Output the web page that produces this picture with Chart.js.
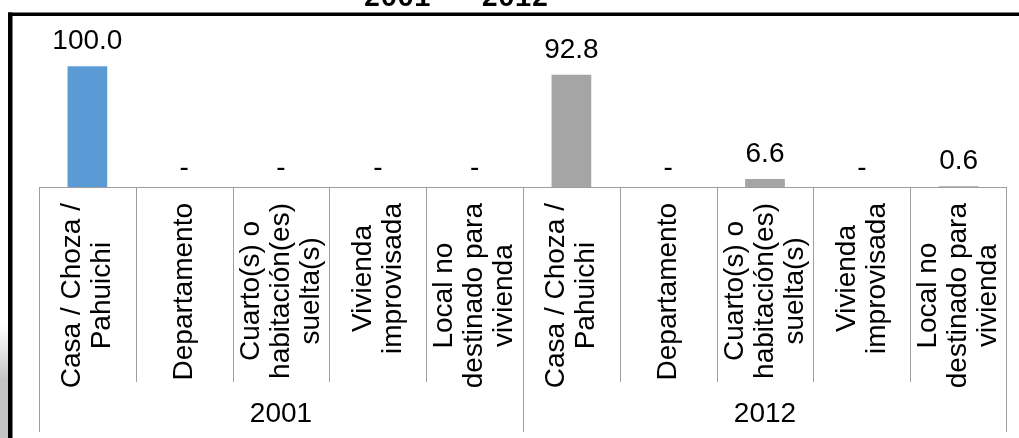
<!DOCTYPE html>
<html>
<head>
<meta charset="utf-8">
<script src="https://cdn.jsdelivr.net/npm/chart.js@4/dist/chart.umd.min.js"></script>
<style>
html,body{margin:0;padding:0;background:#fff;}
#wrap{width:1019px;height:438px;position:relative;}
</style>
</head>
<body>
<div id="wrap"><canvas id="c" width="1019" height="438"></canvas></div>
<script>
// ---- data ----
const titleText = '2001 – 2012';
const groups = ['2001', '2012'];
const categoryLines = [
  ['Casa / Choza /', 'Pahuichi'],
  ['Departamento'],
  ['Cuarto(s) o', 'habitación(es)', 'suelta(s)'],
  ['Vivienda', 'improvisada'],
  ['Local no', 'destinado para', 'vivienda']
];
const values2001 = [100.0, 0, 0, 0, 0];
const values2012 = [92.8, 0, 6.6, 0, 0.6];
const groupColors = ['#5B9BD5', '#A5A5A5'];

// ---- build ----
const labels = [];
const values = [];
const colors = [];
const allValues = [values2001, values2012];
groups.forEach((g, gi) => {
  categoryLines.forEach((lines, ci) => {
    labels.push(g + ' ' + lines.join(' '));
    values.push(allValues[gi][ci]);
    colors.push(groupColors[gi]);
  });
});

const FONT = '"Liberation Sans", Arial, sans-serif';
const AXIS_COLOR = '#9e9e9e';
const LABEL_TOP = 203;      // y where the longest rotated line ends
const INNER_BOTTOM = 382;
const OUTER_BOTTOM = 432;
const GROUP_LABEL_Y = 414;
const LINE_H = 30;

const decorPlugin = {
  id: 'decor',
  beforeDraw(chart) {
    const ctx = chart.ctx;
    ctx.save();
    ctx.fillStyle = '#fff';
    ctx.fillRect(0, 0, chart.width, chart.height);
    const g = ctx.createLinearGradient(0, 325, 0, 380);
    g.addColorStop(0, 'rgba(200,200,200,0)');
    g.addColorStop(1, 'rgba(196,196,196,1)');
    ctx.fillStyle = g;
    ctx.fillRect(0, 325, 8, 113);
    ctx.fillStyle = '#000';
    ctx.fillRect(8, 12.5, 4.5, 438 - 12.5);
    ctx.fillRect(8, 12.5, 1011, 3.5);
    ctx.font = 'bold 28px "Liberation Mono", "Courier New", monospace';
    ctx.textAlign = 'center';
    ctx.textBaseline = 'alphabetic';
    ctx.fillText(titleText, 456, 6);
    ctx.restore();
  },
  afterDatasetsDraw(chart) {
    const ctx = chart.ctx;
    const xs = chart.scales.x;
    const area = chart.chartArea;
    const n = labels.length;
    const step = (area.right - area.left) / n;
    ctx.save();
    ctx.strokeStyle = AXIS_COLOR;
    ctx.lineWidth = 1;
    ctx.beginPath();
    ctx.moveTo(area.left, area.bottom + 0.5);
    ctx.lineTo(area.right, area.bottom + 0.5);
    ctx.stroke();
    for (let i = 0; i <= n; i++) {
      const xx = i === n ? Math.round(xs.getPixelForValue(n - 1) + step / 2) - 0.5
                         : Math.round(xs.getPixelForValue(i) - step / 2) + 0.5;
      const isOuter = (i % categoryLines.length === 0);
      ctx.beginPath();
      ctx.moveTo(xx, area.bottom);
      ctx.lineTo(xx, isOuter ? OUTER_BOTTOM : INNER_BOTTOM);
      ctx.stroke();
    }
    const meta = chart.getDatasetMeta(0);
    ctx.fillStyle = '#000';
    ctx.font = '28px ' + FONT;
    ctx.textAlign = 'center';
    ctx.textBaseline = 'alphabetic';
    meta.data.forEach((el, i) => {
      const v = values[i];
      if (v === 0) {
        ctx.fillText('-', el.x, el.y - 11);
      } else {
        ctx.fillText(v.toFixed(1), el.x, el.y - 17);
      }
    });
    ctx.textAlign = 'center';
    ctx.textBaseline = 'middle';
    for (let i = 0; i < n; i++) {
      const lines = categoryLines[i % categoryLines.length];
      const cx = xs.getPixelForValue(i);
      let w = 0;
      lines.forEach(l => { w = Math.max(w, ctx.measureText(l).width); });
      ctx.save();
      ctx.translate(cx, LABEL_TOP + w / 2);
      ctx.rotate(-Math.PI / 2);
      lines.forEach((ln, li) => {
        const off = (li - (lines.length - 1) / 2) * LINE_H;
        ctx.fillText(ln, 0, off);
      });
      ctx.restore();
    }
    ctx.textAlign = 'center';
    ctx.textBaseline = 'middle';
    const per = categoryLines.length;
    groups.forEach((g, gi) => {
      const x0 = xs.getPixelForValue(gi * per) - step / 2;
      const x1 = xs.getPixelForValue(gi * per + per - 1) + step / 2;
      ctx.fillText(g, (x0 + x1) / 2, GROUP_LABEL_Y);
    });
    ctx.restore();
  }
};

new Chart(document.getElementById('c'), {
  type: 'bar',
  data: {
    labels: labels,
    datasets: [{
      data: values,
      backgroundColor: colors,
      borderWidth: 0,
      categoryPercentage: 1.0,
      barPercentage: 0.41
    }]
  },
  options: {
    responsive: false,
    animation: false,
    devicePixelRatio: 1,
    layout: { padding: { left: 39, right: 12, top: 42, bottom: 251 } },
    plugins: { legend: { display: false }, tooltip: { enabled: false }, title: { display: false } },
    scales: {
      x: { display: false },
      y: { display: false, min: 0, max: 120 }
    }
  },
  plugins: [decorPlugin]
});
</script>
</body>
</html>
